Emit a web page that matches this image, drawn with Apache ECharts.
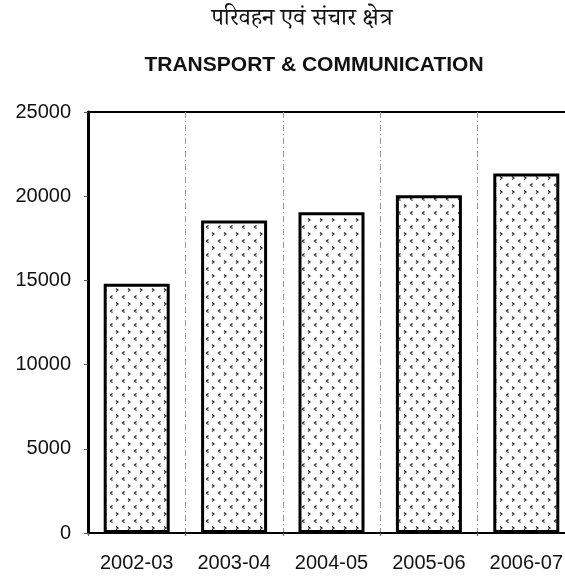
<!DOCTYPE html>
<html lang="hi">
<head>
    <meta charset="UTF-8">
    <title>Transport & Communication</title>
    <script src="https://cdn.jsdelivr.net/npm/echarts@6/dist/echarts.min.js"></script>
    <style>
        html, body { margin: 0; padding: 0; background: #fff; }
        #main { width: 565px; height: 581px; }
    </style>
</head>
<body>
<div id="main"></div>
<script type="text/javascript">
// data
var years = ['2002-03', '2003-04', '2004-05', '2005-06', '2006-07'];
var amounts = [14800, 18550, 19050, 20050, 21350];
var yTicks = [0, 5000, 10000, 15000, 20000, 25000];

// small chevron fill like the printed hatch
function makePattern() {
    var c = document.createElement('canvas');
    c.width = 12;
    c.height = 14;
    var g = c.getContext('2d');
    g.fillStyle = '#fff';
    g.fillRect(0, 0, 12, 14);
    g.strokeStyle = '#222';
    g.lineWidth = 1.2;
    // "<"
    g.beginPath();
    g.moveTo(4.5, 1.5); g.lineTo(2.5, 3); g.lineTo(4.5, 4.5);
    g.stroke();
    // ">"
    g.beginPath();
    g.moveTo(8, 8.5); g.lineTo(10, 10); g.lineTo(8, 11.5);
    g.stroke();
    return c;
}

var chart = echarts.init(document.getElementById('main'));
chart.setOption({
    animation: false,
    backgroundColor: '#fff',
    title: [
        {
            text: 'परिवहन एवं संचार क्षेत्र',
            left: 297,
            top: 6,
            textAlign: 'center',
            textStyle: {
                fontFamily: '"Noto Serif Devanagari", "Noto Sans Devanagari", "Lohit Devanagari", serif',
                fontSize: 24,
                fontWeight: 'normal',
                color: '#111'
            }
        },
        {
            text: 'TRANSPORT & COMMUNICATION',
            left: 309,
            top: 50,
            textAlign: 'center',
            textStyle: {
                fontFamily: '"Liberation Sans", Arial, sans-serif',
                fontSize: 21,
                fontWeight: 'bold',
                color: '#111'
            }
        }
    ],
    grid: {
        left: 88,
        top: 112,
        width: 487,
        height: 421,
        outerBoundsMode: 'none',
        containLabel: false,
        show: true,
        borderColor: '#000',
        borderWidth: 2
    },
    xAxis: {
        type: 'category',
        data: years,
        axisLine: { lineStyle: { color: '#000', width: 2 } },
        axisTick: { show: true, interval: 0, length: 3, lineStyle: { color: '#666' } },
        axisLabel: {
            interval: 0,
            margin: 20,
            color: '#111',
            fontSize: 20,
            fontFamily: '"Liberation Sans", Arial, sans-serif'
        },
        splitLine: {
            show: true,
            interval: 0,
            lineStyle: { color: '#999', type: [6, 3, 1, 3], width: 1 }
        }
    },
    yAxis: {
        type: 'value',
        min: yTicks[0],
        max: yTicks[yTicks.length - 1],
        interval: 5000,
        axisLine: { show: true, lineStyle: { color: '#000', width: 3 } },
        axisTick: { show: true, length: 4, lineStyle: { color: '#555' } },
        axisLabel: {
            margin: 17,
            color: '#111',
            fontSize: 20,
            fontFamily: '"Liberation Sans", Arial, sans-serif',
            formatter: function (v) { return String(v); }
        },
        splitLine: { show: false }
    },
    series: [{
        type: 'bar',
        data: amounts,
        barWidth: 66,
        itemStyle: {
            color: { image: makePattern(), repeat: 'repeat' },
            borderColor: '#000',
            borderWidth: 3
        }
    }]
});
</script>
</body>
</html>
